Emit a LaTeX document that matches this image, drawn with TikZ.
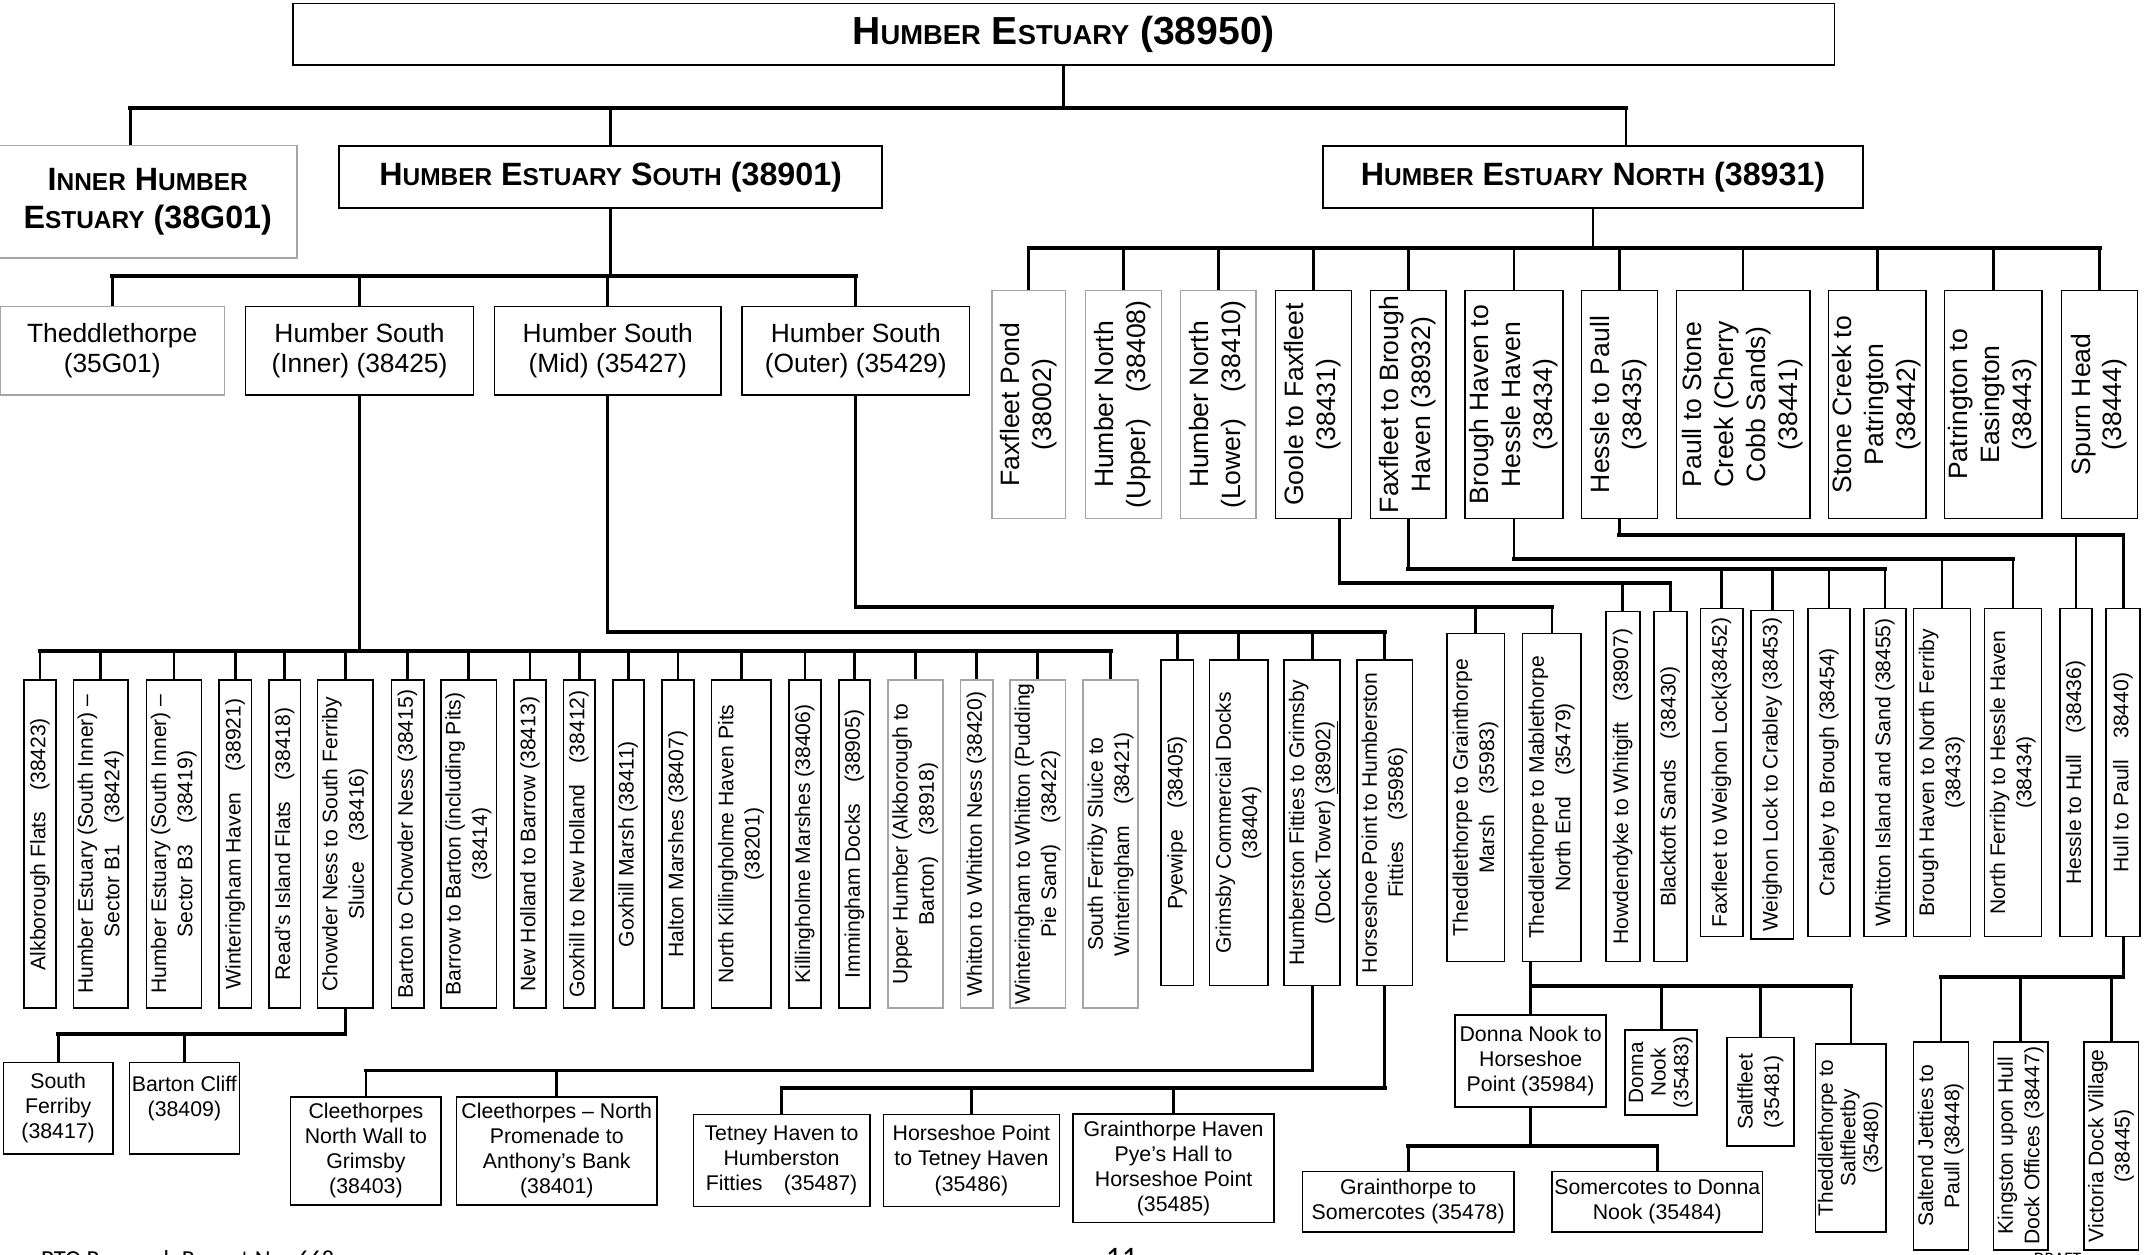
\documentclass[tikz,border=0pt]{standalone}
\usepackage{fontspec}
\setmainfont{Liberation Sans}
\newfontfamily\footfont{Carlito}
\usepackage{graphicx}
\usepackage{xcolor}
\definecolor{boxgrey}{RGB}{165,165,165}

\newcommand\tsc[1]{{\fontsize{14}{14}\selectfont #1}}
\newcommand\ssc[1]{{\fontsize{12.5}{12.5}\selectfont #1}}
\newcommand\vt[1]{\rotatebox{90}{\begin{tabular}{@{}c@{}}#1\end{tabular}}}

\tikzset{
  box/.style={draw, line width=0.8pt, inner sep=0.5pt, align=center},
  greybox/.style={box, draw=boxgrey},
  wh/.style 2 args={minimum width=#1*0.7pt, minimum height=#2*0.7pt},
  link/.style={line width=1.4pt},
  bar/.style={line width=2pt, line cap=rect},
  hdtxt/.style={font=\fontsize{16.5}{19.6}\selectfont\bfseries},
  bigtxt/.style={font=\fontsize{13.5}{15.4}\selectfont},
  smalltxt/.style={font=\fontsize{10.9}{12.8}\selectfont},
  vbigtxt/.style={font=\fontsize{13.6}{16.3}\selectfont},
  vsmalltxt/.style={font=\fontsize{10.8}{13.5}\selectfont},
  vtighttxt/.style={font=\fontsize{10.6}{11.6}\selectfont},
}

\begin{document}
\begin{tikzpicture}[x=0.7pt, y=-0.7pt]
\useasboundingbox (0,0) rectangle (1568,917);

% estuary, north and south
\node[box, wh={1127}{45}, font=\fontsize{20}{24}\selectfont\bfseries] (top) at (777.5,25) {H\tsc{UMBER} E\tsc{STUARY} (38950)};
\node[greybox, hdtxt, wh={218}{82}] (inner) at (108,147.5) {I\ssc{NNER} H\ssc{UMBER}\\E\ssc{STUARY} (38G01)};
\node[box, hdtxt, wh={397}{45.3}] (south) at (446.4,129.2) {H\ssc{UMBER} E\ssc{STUARY} S\ssc{OUTH} (38901)};
\node[box, hdtxt, wh={395}{45.3}] (north) at (1164.5,129.2) {H\ssc{UMBER} E\ssc{STUARY} N\ssc{ORTH} (38931)};

% south: inner, mid, outer
\node[greybox, bigtxt, wh={164}{64.7}] (thed) at (82,256.4) {Theddlethorpe\\(35G01)};
\node[box, bigtxt, wh={166.5}{64.7}] (sin) at (262.8,256.4) {Humber South\\(Inner) (38425)};
\node[box, bigtxt, wh={165.5}{64.7}] (smid) at (444.3,256.4) {Humber South\\(Mid) (35427)};
\node[box, bigtxt, wh={166.2}{64.7}] (sout) at (625.6,256.4) {Humber South\\(Outer) (35429)};

% north row
\node[greybox, vbigtxt, wh={54}{166.4}] (faxpond) at (752,295.7) {\vt{Faxfleet Pond\\(38002)}};
\node[greybox, vbigtxt, wh={55.4}{166.4}] (hnup) at (821.3,295.7) {\vt{Humber North\\(Upper)\quad(38408)}};
\node[greybox, vbigtxt, wh={55}{166.4}] (hnlow) at (890.5,295.7) {\vt{Humber North\\(Lower)\quad(38410)}};
\node[box, vbigtxt, wh={55.4}{166.4}] (goole) at (960.1,295.7) {\vt{Goole to Faxfleet\\(38431)}};
\node[box, vbigtxt, wh={55.2}{166.4}] (fbh) at (1029.4,295.7) {\vt{Faxfleet to Brough\\Haven (38932)}};
\node[box, vbigtxt, wh={70.6}{166.4}] (bhh) at (1106.7,295.7) {\vt{Brough Haven to\\Hessle Haven\\(38434)}};
\node[box, vbigtxt, wh={55.5}{166.4}] (hpaull) at (1183.8,295.7) {\vt{Hessle to Paull\\(38435)}};
\node[box, vbigtxt, wh={97.6}{166.4}] (pstone) at (1274.2,295.7) {\vt{Paull to Stone\\Creek (Cherry\\Cobb Sands)\\(38441)}};
\node[box, vbigtxt, wh={70.7}{166.4}] (stone) at (1372.4,295.7) {\vt{Stone Creek to\\Patrington\\(38442)}};
\node[box, vbigtxt, wh={71}{166.4}] (patr) at (1457.2,295.7) {\vt{Patrington to\\Easington\\(38443)}};
\node[box, vbigtxt, wh={55.5}{166.4}] (spurn) at (1534.8,295.7) {\vt{Spurn Head\\(38444)}};

% humber south (inner)
\node[box, vsmalltxt, wh={23.4}{240}] (alk) at (29.3,617) {\vt{Alkborough Flats\quad(38423)}};
\node[box, vsmalltxt, wh={40}{240}] (secb1) at (73.7,617) {\vt{Humber Estuary (South Inner) –\\Sector B1\quad(38424)}};
\node[box, vsmalltxt, wh={40.5}{240}] (secb3) at (127.2,617) {\vt{Humber Estuary (South Inner) –\\Sector B3\quad(38419)}};
\node[box, vsmalltxt, wh={23.6}{240}] (wham) at (172,617) {\vt{Winteringham Haven\quad(38921)}};
\node[box, vsmalltxt, wh={22.9}{240}] (reads) at (208.2,617) {\vt{Read’s Island Flats\quad(38418)}};
\node[box, vsmalltxt, wh={40.8}{240}] (chow) at (252.4,617) {\vt{Chowder Ness to South Ferriby\\Sluice\quad(38416)}};
\node[box, vsmalltxt, wh={23.7}{240}] (bartc) at (297.9,617) {\vt{Barton to Chowder Ness (38415)}};
\node[box, vsmalltxt, wh={40.6}{240}] (barrow) at (342.5,617) {\vt{Barrow to Barton (including Pits)\\(38414)}};
\node[box, vsmalltxt, wh={23.6}{240}] (nhol) at (387.5,617) {\vt{New Holland to Barrow (38413)}};
\node[box, vsmalltxt, wh={23.2}{240}] (goxnh) at (423.4,617) {\vt{Goxhill to New Holland\quad(38412)}};
\node[box, vsmalltxt, wh={22.6}{240}] (goxm) at (459.3,617) {\vt{Goxhill Marsh (38411)}};
\node[box, vsmalltxt, wh={23.4}{240}] (halton) at (495.7,617) {\vt{Halton Marshes (38407)}};
\node[box, vsmalltxt, wh={43.6}{240}] (nkill) at (541.8,617) {\vt{North Killingholme Haven Pits\\(38201)}};
\node[box, vsmalltxt, wh={23.1}{240}] (kill) at (588.4,617) {\vt{Killingholme Marshes (38406)}};
\node[box, vsmalltxt, wh={22.7}{240}] (imm) at (624.7,617) {\vt{Immingham Docks\quad(38905)}};
\node[greybox, vsmalltxt, wh={40.4}{240}] (uphum) at (669.2,617) {\vt{Upper Humber (Alkborough to\\Barton)\quad(38918)}};
\node[greybox, vsmalltxt, wh={23.7}{240}] (whit) at (713.9,617) {\vt{Whitton to Whitton Ness (38420)}};
\node[greybox, vsmalltxt, wh={40.6}{240}] (wint) at (758.6,617) {\vt{Winteringham to Whitton (Pudding\\Pie Sand)\quad(38422)}};
\node[greybox, vsmalltxt, wh={40.3}{240}] (sfs) at (811.9,617) {\vt{South Ferriby Sluice to\\Winteringham\quad(38421)}};

% humber south (mid) and (outer)
\node[box, vsmalltxt, wh={23.9}{238}] (pyew) at (860.6,601.5) {\vt{Pyewipe\quad(38405)}};
\node[box, vsmalltxt, wh={43}{238}] (gcd) at (905.5,601.5) {\vt{Grimsby Commercial Docks\\(38404)}};
\node[box, vsmalltxt, wh={41}{238}] (hfg) at (959.2,601.5) {\vt{Humberston Fitties to Grimsby\\(Dock Tower) \underline{(38902)}}};
\node[box, vsmalltxt, wh={40.7}{238}] (hph) at (1012.2,601.5) {\vt{Horseshoe Point to Humberston\\Fitties\quad(35986)}};
\node[box, vsmalltxt, wh={42.3}{240}] (tgm) at (1078.7,583) {\vt{Theddlethorpe to Grainthorpe\\Marsh\quad(35983)}};
\node[box, vsmalltxt, wh={42.7}{240}] (tmn) at (1134.4,583) {\vt{Theddlethorpe to Mablethorpe\\North End\quad(35479)}};

% north sub-sites
\node[box, vsmalltxt, wh={25}{256}] (howd) at (1186.3,575) {\vt{Howdendyke to Whitgift\quad(38907)}};
\node[box, vsmalltxt, wh={24}{256}] (blackt) at (1221,575) {\vt{Blacktoft Sands\quad(38430)}};
\node[box, vsmalltxt, wh={31}{240}] (fwl) at (1258.5,564.7) {\vt{Faxfleet to Weighon Lock(38452)}};
\node[box, vsmalltxt, wh={31}{240}] (wlc) at (1295.5,566.3) {\vt{Weighon Lock to Crabley (38453)}};
\node[box, vsmalltxt, wh={30.8}{240}] (crab) at (1337,564.7) {\vt{Crabley to Brough (38454)}};
\node[box, vsmalltxt, wh={30.7}{240}] (wis) at (1378,564.7) {\vt{Whitton Island and Sand (38455)}};
\node[box, vsmalltxt, wh={41.6}{240}] (bhnf) at (1419.6,564.7) {\vt{Brough Haven to North Ferriby\\(38433)}};
\node[box, vsmalltxt, wh={41.6}{240}] (nfhh) at (1471.5,564.7) {\vt{North Ferriby to Hessle Haven\\(38434)}};
\node[box, vsmalltxt, wh={23.7}{240}] (hhull) at (1517.5,564.7) {\vt{Hessle to Hull\quad(38436)}};
\node[box, vsmalltxt, wh={24.9}{240}] (hullp) at (1552,564.7) {\vt{Hull to Paull\quad 38440)}};

% bottom rows
\node[box, smalltxt, wh={80}{66.8}] (sfer) at (42.5,810.2) {South\\Ferriby\\(38417)};
\node[box, smalltxt, wh={80.4}{66.8}] (bcliff) at (134.8,810.2) {Barton Cliff\\(38409)\\~};
\node[box, smalltxt, wh={110}{79}] (cnw) at (267.5,841.3) {Cleethorpes\\North Wall to\\Grimsby\\(38403)};
\node[box, smalltxt, wh={146.8}{79}] (cnp) at (407,841.3) {Cleethorpes – North\\Promenade to\\Anthony’s Bank\\(38401)};
\node[box, smalltxt, wh={129}{67.4}] (teth) at (571.3,848.3) {Tetney Haven to\\Humberston\\Fitties\quad(35487)};
\node[box, smalltxt, wh={128.6}{67.4}] (hpth) at (710.1,848.3) {Horseshoe Point\\to Tetney Haven\\(35486)};
\node[box, smalltxt, wh={147}{79}] (ghp) at (857.9,854) {Grainthorpe Haven\\Pye’s Hall to\\Horseshoe Point\\(35485)};
\node[box, smalltxt, wh={110.3}{67}] (dnhp) at (1118.9,775.5) {Donna Nook to\\Horseshoe\\Point (35984)};
\node[box, vtighttxt, wh={52.6}{62}] (dnook) at (1214.3,784) {\vt{Donna\\Nook\\(35483)}};
\node[box, vsmalltxt, wh={49.1}{79.2}] (salt) at (1287,798.1) {\vt{Saltfleet\\(35481)}};
\node[box, vtighttxt, wh={51.5}{137.4}] (tsalt) at (1353,831.7) {\vt{Theddlethorpe to\\Saltfleetby\\(35480)}};
\node[box, smalltxt, wh={154.8}{44}] (gsom) at (1029.4,878.5) {Grainthorpe to\\Somercotes (35478)};
\node[box, smalltxt, wh={153.9}{44}] (sdn) at (1211.5,878.5) {Somercotes to Donna\\Nook (35484)};
\node[box, vsmalltxt, wh={40.2}{152.2}] (salj) at (1418.8,837.6) {\vt{Saltend Jetties to\\Paull (38448)}};
\node[box, vsmalltxt, wh={39.6}{152.2}] (khull) at (1477.2,837.6) {\vt{Kingston upon Hull\\Dock Offices (38447)}};
\node[box, vsmalltxt, wh={39.5}{152.2}] (vdv) at (1543.3,837.6) {\vt{Victoria Dock Village\\(38445)}};

% page footer (cut off)
\node[anchor=base west, font=\footfont\fontsize{12.5}{14}\selectfont] (foot) at (25,926.5) {BTO Research Report No. 668};
\node[anchor=base, font=\footfont\fontsize{16}{18}\selectfont] (pagenum) at (820,927) {11};
\node[anchor=base, font=\footfont\fontsize{9}{10}\selectfont] (draft) at (1504,924.5) {DRAFT};

% bus levels
\coordinate (yTop) at (0,79);
\coordinate (yS) at (0,202);
\coordinate (yN) at (0,181.5);
\coordinate (ySin) at (0,475.6);
\coordinate (ySmid) at (0,461.7);
\coordinate (ySout) at (0,443.5);
\coordinate (yGoole) at (0,426.4);
\coordinate (yFbh) at (0,416);
\coordinate (yBhh) at (0,408.3);
\coordinate (yHp) at (0,391);
\coordinate (yChow) at (0,756);
\coordinate (yHfg) at (0,782.5);
\coordinate (yHph) at (0,795);
\coordinate (yTmn) at (0,720.8);
\coordinate (yDnhp) at (0,838);
\coordinate (yHull) at (0,714.5);
\coordinate (innertop) at ([xshift=-9pt]inner.north);
\coordinate (northtop) at ([xshift=16.8pt]north.north);
\coordinate (gooleout) at ([xshift=13.5pt]goole.south);

% top level
\draw[link] (top.south) -- (top.south |- yTop);
\draw[bar] (innertop |- yTop) -- (northtop |- yTop);
\foreach \n in {innertop,south.north,northtop} \draw[link] (\n |- yTop) -- (\n);

% south
\draw[link] (south.south) -- (south.south |- yS);
\draw[bar] (thed.north |- yS) -- (sout.north |- yS);
\foreach \n in {thed,sin,smid,sout} \draw[link] (\n.north |- yS) -- (\n.north);

% north
\draw[link] (north.south) -- (north.south |- yN);
\draw[bar] (faxpond.north |- yN) -- (spurn.north |- yN);
\foreach \n in {faxpond,hnup,hnlow,goole,fbh,bhh,hpaull,pstone,stone,patr,spurn}
  \draw[link] (\n.north |- yN) -- (\n.north);

% inner
\draw[link] (sin.south) -- (sin.south |- ySin);
\draw[bar] (alk.north |- ySin) -- (sfs.north |- ySin);
\foreach \n in {alk,secb1,secb3,wham,reads,chow,bartc,barrow,nhol,goxnh,goxm,halton,nkill,kill,imm,uphum,whit,wint,sfs}
  \draw[link] (\n.north |- ySin) -- (\n.north);

% mid
\draw[link] (smid.south) -- (smid.south |- ySmid);
\draw[bar] (smid.south |- ySmid) -- (hph.north |- ySmid);
\foreach \n in {pyew,gcd,hfg,hph} \draw[link] (\n.north |- ySmid) -- (\n.north);

% outer
\draw[link] (sout.south) -- (sout.south |- ySout);
\draw[bar] (sout.south |- ySout) -- (tmn.north |- ySout);
\foreach \n in {tgm,tmn} \draw[link] (\n.north |- ySout) -- (\n.north);

% goole, faxfleet, brough, hessle
\draw[link] (gooleout) -- (gooleout |- yGoole);
\draw[bar] (gooleout |- yGoole) -- (blackt.north |- yGoole);
\foreach \n in {howd,blackt} \draw[link] (\n.north |- yGoole) -- (\n.north);
\draw[link] (fbh.south) -- (fbh.south |- yFbh);
\draw[bar] (fbh.south |- yFbh) -- (wis.north |- yFbh);
\foreach \n in {fwl,wlc,crab,wis} \draw[link] (\n.north |- yFbh) -- (\n.north);
\draw[link] (bhh.south) -- (bhh.south |- yBhh);
\draw[bar] (bhh.south |- yBhh) -- (nfhh.north |- yBhh);
\foreach \n in {bhnf,nfhh} \draw[link] (\n.north |- yBhh) -- (\n.north);
\draw[link] (hpaull.south) -- (hpaull.south |- yHp);
\draw[bar] (hpaull.south |- yHp) -- (hullp.north |- yHp);
\foreach \n in {hhull,hullp} \draw[link] (\n.north |- yHp) -- (\n.north);

% lower levels
\draw[link] (chow.south) -- (chow.south |- yChow);
\draw[bar] (sfer.north |- yChow) -- (chow.south |- yChow);
\foreach \n in {sfer,bcliff} \draw[link] (\n.north |- yChow) -- (\n.north);
\draw[link] (hfg.south) -- (hfg.south |- yHfg);
\draw[bar] (cnw.north |- yHfg) -- (hfg.south |- yHfg);
\foreach \n in {cnw,cnp} \draw[link] (\n.north |- yHfg) -- (\n.north);
\draw[link] (hph.south) -- (hph.south |- yHph);
\draw[bar] (teth.north |- yHph) -- (hph.south |- yHph);
\foreach \n in {teth,hpth,ghp} \draw[link] (\n.north |- yHph) -- (\n.north);
\draw[link] (tmn.south -| dnhp.north) -- (dnhp.north |- yTmn);
\draw[bar] (dnhp.north |- yTmn) -- (tsalt.north |- yTmn);
\foreach \n in {dnhp,dnook,salt,tsalt} \draw[link] (\n.north |- yTmn) -- (\n.north);
\draw[link] (dnhp.south) -- (dnhp.south |- yDnhp);
\draw[bar] (gsom.north |- yDnhp) -- (sdn.north |- yDnhp);
\foreach \n in {gsom,sdn} \draw[link] (\n.north |- yDnhp) -- (\n.north);
\draw[link] (hullp.south) -- (hullp.south |- yHull);
\draw[bar] (salj.north |- yHull) -- (hullp.south |- yHull);
\foreach \n in {salj,khull,vdv} \draw[link] (\n.north |- yHull) -- (\n.north);
\end{tikzpicture}
\end{document}
